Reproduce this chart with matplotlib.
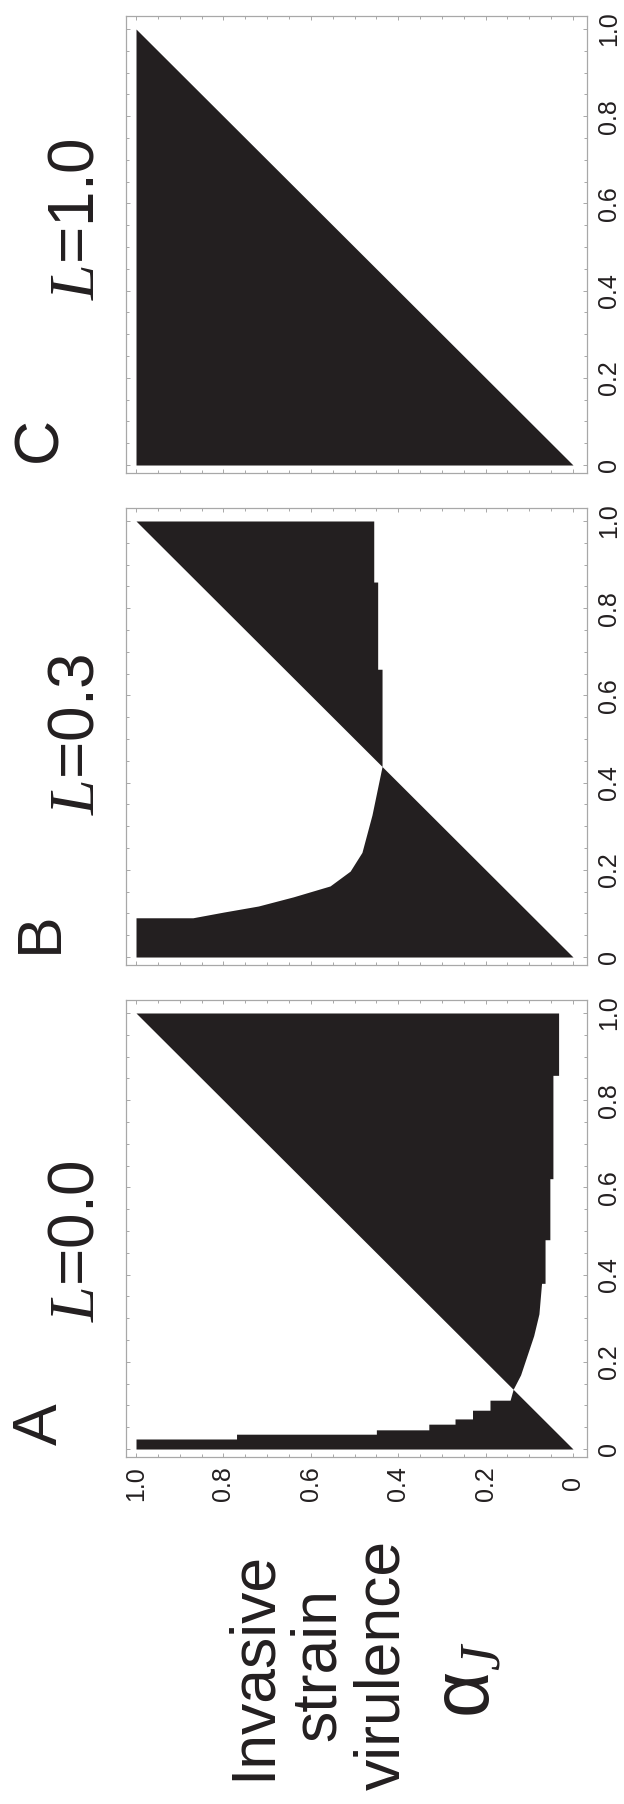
import matplotlib
matplotlib.use('Agg')
import matplotlib.pyplot as plt
from matplotlib.ticker import MultipleLocator

plt.rcParams['font.family'] = ['Liberation Sans', 'DejaVu Sans']
plt.rcParams['mathtext.fontset'] = 'custom'
plt.rcParams['mathtext.rm'] = 'Liberation Sans'
plt.rcParams['mathtext.it'] = 'Liberation Serif:italic'
plt.rcParams['mathtext.bf'] = 'Liberation Sans:bold'

# panel names and transmission values
panel_names = ['A', 'B', 'C']
L_labels = ['0.0', '0.3', '1.0']

# resident virulence (along the panel) and the invasion boundary of invasive virulence
# black region lies between the diagonal (invasive = resident) and the boundary
res_A = [0, 0.023, 0.023, 0.034, 0.034, 0.044, 0.044, 0.057, 0.057, 0.069, 0.069,
         0.089, 0.089, 0.112, 0.112, 0.137, 0.17, 0.20, 0.26, 0.31, 0.38, 0.38,
         0.48, 0.48, 0.62, 0.62, 0.857, 0.857, 1.0]
inv_A = [1, 1, 0.77, 0.77, 0.45, 0.45, 0.33, 0.33, 0.27, 0.27, 0.23,
         0.23, 0.19, 0.19, 0.144, 0.137, 0.12, 0.11, 0.09, 0.078, 0.072, 0.064,
         0.064, 0.053, 0.053, 0.046, 0.046, 0.033, 0.033]

res_B = [0, 0.09, 0.09, 0.103, 0.117, 0.138, 0.163, 0.197, 0.24, 0.326,
         0.437, 0.66, 0.66, 0.86, 0.86, 1.0]
inv_B = [1, 1, 0.87, 0.80, 0.72, 0.64, 0.556, 0.51, 0.483, 0.46,
         0.437, 0.437, 0.447, 0.447, 0.456, 0.456]

res_C = [0, 1.0]
inv_C = [1, 1]

tick_vals = [0, 0.2, 0.4, 0.6, 0.8, 1.0]
tick_text = ['0', '0.2', '0.4', '0.6', '0.8', '1.0']

ylabel_text = 'Invasive\nstrain\nvirulence'
alpha_text = '$\\mathrm{\\alpha}_J$'

black = '#231f20'
frame_col = '#a8a8a8'

W, H = 624, 1804
fig = plt.figure(figsize=(W / 100, H / 100), dpi=100)

# pixel boxes of the frames (top, bottom) and centre of the L label
frames = {'C': (16, 473), 'B': (508, 965), 'A': (1000, 1457)}
L_centre = {'C': 219, 'B': 734, 'A': 1241}
left_px, right_px = 126, 587

data = {'A': (res_A, inv_A), 'B': (res_B, inv_B), 'C': (res_C, inv_C)}

for name, Ltxt in zip(panel_names, L_labels):
    top, bot = frames[name]
    ax = fig.add_axes([left_px / W, 1 - bot / H, (right_px - left_px) / W, (bot - top) / H])
    res, inv = data[name]
    ax.fill_betweenx(res, res, inv, color=black, lw=0)

    ax.set_xlim(1.0229, -0.032)
    ax.set_ylim(-0.0183, 1.0298)

    for sp in ax.spines.values():
        sp.set_color(frame_col)
        sp.set_linewidth(0.9)

    ax.xaxis.set_minor_locator(MultipleLocator(0.05))
    ax.yaxis.set_minor_locator(MultipleLocator(0.05))
    ax.set_xticks(tick_vals)
    ax.set_yticks(tick_vals)
    ax.set_yticklabels(tick_text)
    ax.set_xticklabels(tick_text)
    ax.tick_params(which='both', direction='in', color=frame_col, width=0.7,
                   top=True, bottom=True, left=True, right=True,
                   labelleft=False, labelright=True, labeltop=False,
                   labelbottom=(name == 'A'), labelsize=18, labelcolor=black)
    ax.tick_params(which='major', length=3.2)
    ax.tick_params(which='minor', length=2.0)
    ax.tick_params(axis='y', pad=7)
    ax.tick_params(axis='x', pad=19)
    for lab in ax.get_yticklabels():
        lab.set_rotation(90)
        lab.set_va('center')
    for lab in ax.get_xticklabels():
        lab.set_rotation(90)
        lab.set_va('center')

    # panel letter and L value
    fig.text(40 / W, 1 - (bot - 33) / H, name, rotation=90, ha='center', va='center',
             fontsize=45, color=black)
    fig.text(76 / W, 1 - L_centre[name] / H, '$L$=' + Ltxt, rotation=90,
             ha='center', va='center', fontsize=46, color=black)

fig.text(318 / W, 1 - 1665 / H, ylabel_text, rotation=90, ha='center', va='center',
         multialignment='center', fontsize=45, color=black, linespacing=1.12)
fig.text(468 / W, 1 - 1680 / H, alpha_text, rotation=90, ha='center', va='center',
         fontsize=58, color=black)

fig.savefig('out.png', dpi=100)
